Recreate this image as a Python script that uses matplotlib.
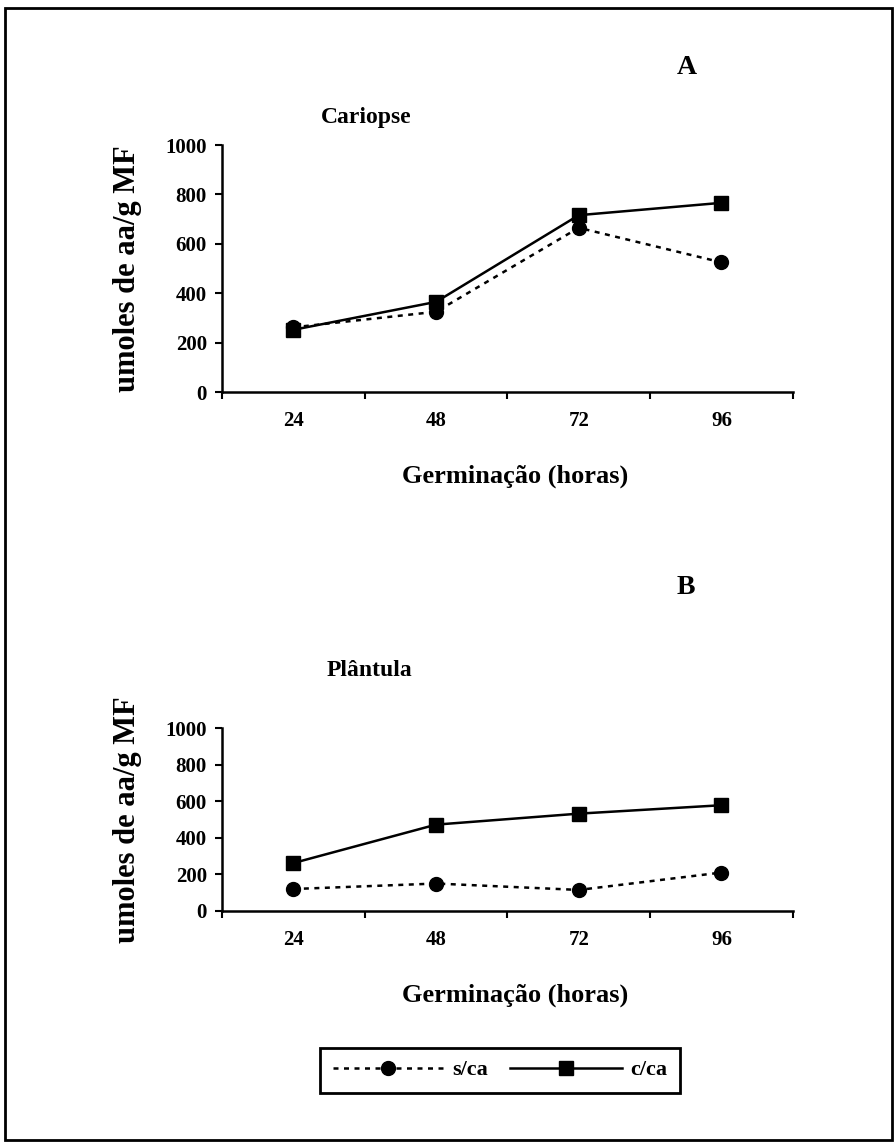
import matplotlib
matplotlib.use("Agg")
import matplotlib.pyplot as plt
from matplotlib.patches import Rectangle
import numpy as np

# horas de germinacao
horas = ["24", "48", "72", "96"]

# Cariopse (umoles de aa/g MF)
cariopse_sca = [262, 325, 665, 525]
cariopse_cca = [252, 365, 716, 766]

# Plantula (umoles de aa/g MF)
plantula_sca = [120, 150, 115, 210]
plantula_cca = [262, 472, 532, 578]

yticks = [0, 200, 400, 600, 800, 1000]

plt.rcParams['font.family'] = ['Liberation Serif', 'DejaVu Serif']
plt.rcParams['font.weight'] = 'bold'


def draw_panel(ax, sca, cca):
    x = np.arange(len(horas))
    ax.plot(x, sca, color='black', linestyle=(0, (2, 2.2)), linewidth=1.8,
            marker='o', markersize=10, label='s/ca')
    ax.plot(x, cca, color='black', linestyle='-', linewidth=1.8,
            marker='s', markersize=10, label='c/ca')

    ax.set_xlim(-0.5, len(horas) - 0.5)
    ax.set_ylim(0, 1000)
    ax.set_yticks(yticks)

    # tick marks between categories, labels at category centres
    ax.set_xticks(np.arange(len(horas) + 1) - 0.5)
    ax.set_xticklabels([])
    ax.set_xticks(x, minor=True)
    ax.set_xticklabels(horas, minor=True)
    ax.tick_params(axis='x', which='minor', length=0, pad=14, labelsize=15)
    ax.tick_params(axis='x', which='major', direction='out', length=5, width=1.5)
    ax.tick_params(axis='y', direction='out', length=5, width=1.5, pad=6, labelsize=15)

    for side in ['top', 'right']:
        ax.spines[side].set_visible(False)
    for side in ['left', 'bottom']:
        ax.spines[side].set_linewidth(1.8)

    ax.text(-0.165, 0.5, 'umoles de aa/g MF', transform=ax.transAxes,
            rotation=90, ha='center', va='center', fontsize=22)


fig = plt.figure(figsize=(8.96, 11.42), dpi=100)

ax1 = fig.add_axes([0.2478, 0.6567, 0.637, 0.2163])
draw_panel(ax1, cariopse_sca, cariopse_cca)

ax2 = fig.add_axes([0.2478, 0.2023, 0.637, 0.1602])
draw_panel(ax2, plantula_sca, plantula_cca)

fig.text(687 / 896, 1 - 68 / 1142, 'A', ha='center', va='center', fontsize=20)
fig.text(366 / 896, 1 - 118 / 1142, 'Cariopse', ha='center', va='center', fontsize=17)
fig.text(515 / 896, 1 - 476 / 1142, 'Germinação (horas)', ha='center', va='center', fontsize=19)

fig.text(686 / 896, 1 - 588 / 1142, 'B', ha='center', va='center', fontsize=20)
fig.text(369 / 896, 1 - 670 / 1142, 'Plântula', ha='center', va='center', fontsize=17)
fig.text(515 / 896, 1 - 995 / 1142, 'Germinação (horas)', ha='center', va='center', fontsize=19)

leg = fig.legend(handles=ax2.get_lines(), loc='center', ncol=2,
                 bbox_to_anchor=(500 / 896, 1 - 1070 / 1142),
                 fontsize=16, handlelength=5, handletextpad=0.4, numpoints=1,
                 fancybox=False, edgecolor='black', framealpha=1,
                 borderpad=0.55, columnspacing=1.0)
leg.get_frame().set_linewidth(2)

# outer frame
fig.patches.append(Rectangle((0.006, 0.002), 0.99, 0.991, transform=fig.transFigure,
                             fill=False, edgecolor='black', linewidth=2))

fig.savefig('out.png', dpi=100)
